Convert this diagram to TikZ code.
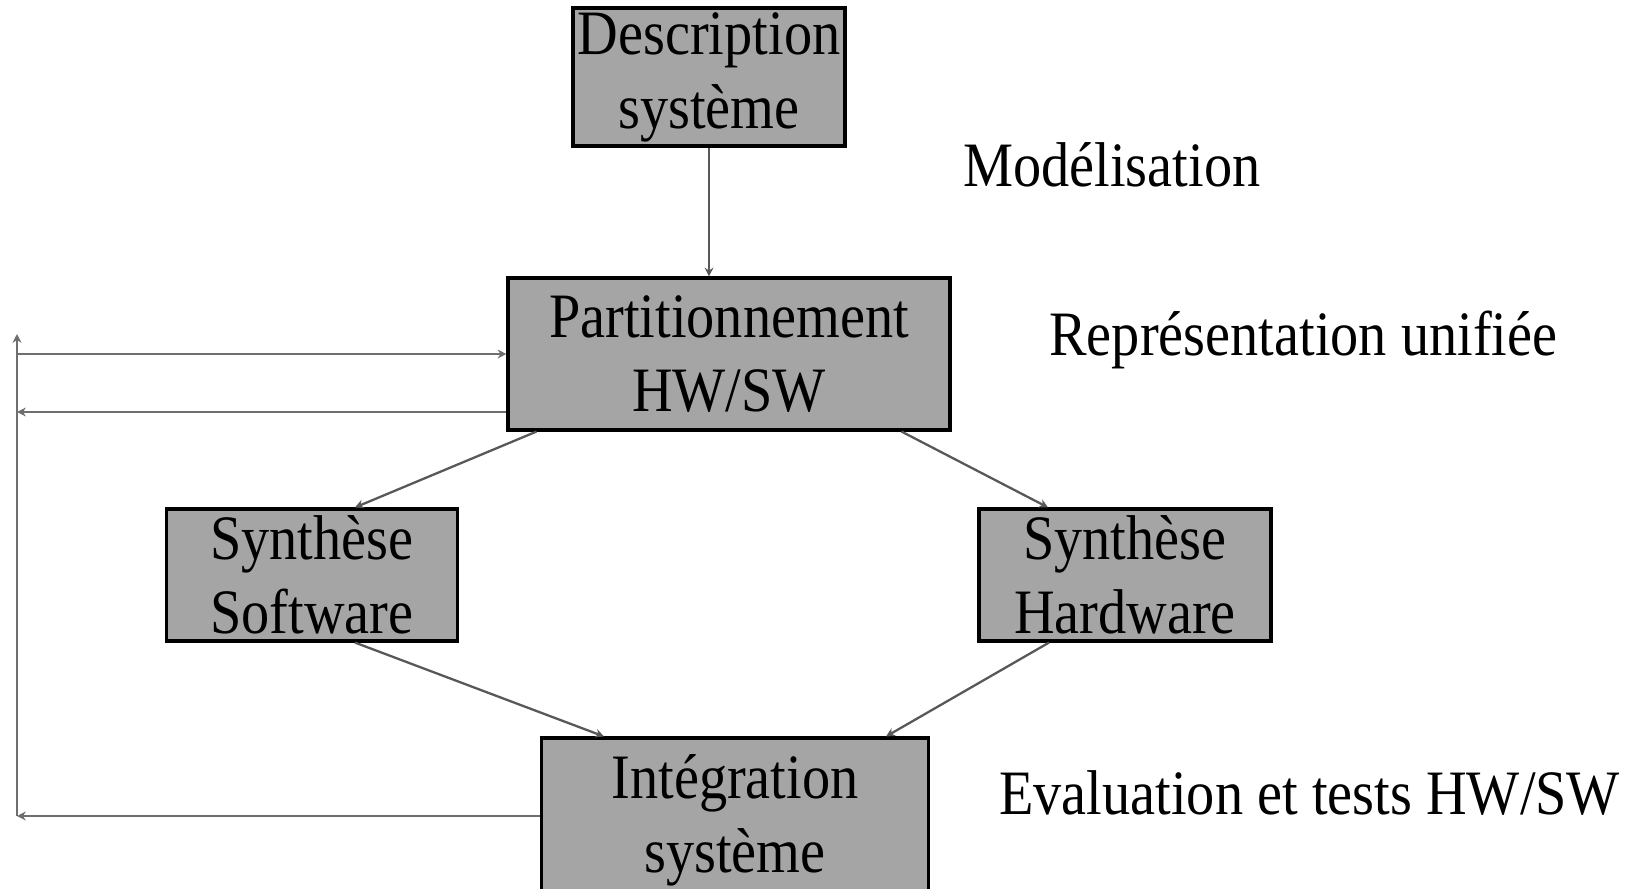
\documentclass[tikz,border=0pt]{standalone}
\usepackage{fontspec}
\setmainfont[FakeStretch=0.89]{Liberation Serif}
\usetikzlibrary{arrows.meta}
\definecolor{boxgray}{HTML}{A5A5A5}
\definecolor{linegray}{HTML}{6E6E6E}
\begin{document}
\begin{tikzpicture}[x=0.02cm,y=-0.02cm,>={Stealth[length=5pt,width=5pt]},
		blk/.style={draw=black,line width=1.8pt,fill=boxgray,align=center,inner sep=0pt,font=\fontsize{36}{42}\selectfont},
		lbl/.style={anchor=base west,inner sep=0pt,font=\fontsize{36}{42}\selectfont},
		fb/.style={draw=linegray,line width=1.3pt},
		ln/.style={draw=linegray!80!black,line width=1.3pt}]
		\useasboundingbox (0,0) rectangle (1637,889);
		\node[blk,minimum width=5.44cm,minimum height=2.76cm] (desc) at (709,77) {Description\\système};
		\node[blk,minimum width=8.84cm,minimum height=3.04cm] (part) at (729,354) {Partitionnement\\HW/SW};
		\node[blk,minimum width=5.82cm,minimum height=2.64cm] (sw) at (312,575) {Synthèse\\Software};
		\node[blk,minimum width=5.84cm,minimum height=2.64cm] (hw) at (1125,575) {Synthèse\\Hardware};
		\node[blk,minimum width=7.74cm,minimum height=3.28cm] (integ) at (735,820) {Intégration\\système};
		\node[lbl] (model) at (963,186) {Modélisation};
		\node[lbl] (repr) at (1049,355) {Représentation unifiée};
		\node[lbl] (eval) at (999,814) {Evaluation et tests HW/SW};
		\coordinate (fbx) at (17,0);
		\coordinate (fbtop) at (17,334);
		\draw[ln,->] (desc.south) -- (desc.south |- part.north);
		\draw[ln,->] ([xshift=0.6cm]part.south west) -- ([xshift=0.86cm]sw.north);
		\draw[ln,->] ([xshift=-1cm]part.south east) -- ([xshift=-1.54cm]hw.north);
		\draw[ln,->] ([xshift=0.86cm]sw.south) -- ([xshift=1.28cm]integ.north west);
		\draw[ln,->] ([xshift=-1.52cm]hw.south) -- ([xshift=-0.88cm]integ.north east);
		\draw[fb,->] ([yshift=0.08cm]integ.west) -- ([yshift=0.08cm]integ.west -| fbx);
		\draw[fb,->] ([yshift=0.08cm]integ.west -| fbx) -- (fbtop);
		\draw[fb,->] (part.west -| fbx) -- (part.west);
		\draw[fb,->] ([yshift=-1.16cm]part.west) -- ([yshift=-1.16cm]part.west -| fbx);
		\end{tikzpicture}
\end{document}
